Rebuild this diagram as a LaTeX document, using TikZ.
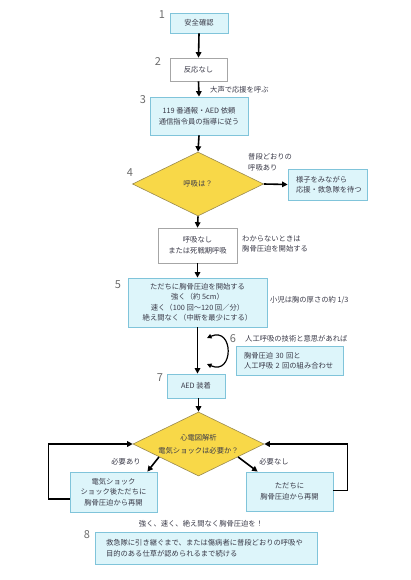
\documentclass[tikz,border=0pt]{standalone}
\usepackage{fontspec}
\newfontfamily\jp{Noto Sans CJK JP}
\usetikzlibrary{shapes.geometric,arrows.meta,calc}
\definecolor{boxfill}{HTML}{DDF5FA}
\definecolor{boxline}{HTML}{80C4DA}
\definecolor{dfill}{HTML}{F8D848}
\definecolor{dline}{HTML}{9A8A50}
\definecolor{txt}{HTML}{3A3A48}
\begin{document}
\begin{tikzpicture}[x=1pt,y=-1pt,
  every node/.style={font=\jp\fontsize{7.3}{10.5}\selectfont, text=txt, inner sep=0pt, align=center},
  cbox/.style={draw=boxline, fill=boxfill, line width=0.8pt},
  wbox/.style={draw=gray!70, fill=white, line width=0.6pt},
  dia/.style={diamond, aspect=2.05, draw=dline, fill=dfill, line width=0.6pt},
  num/.style={font=\jp\fontsize{11}{11}\selectfont, text=gray!85!black},
  note/.style={align=left, anchor=west},
  arr/.style={line width=1.6pt, -{Triangle[length=5.5pt,width=5.5pt]}},
  larr/.style={line width=1.2pt, {Triangle[length=4.5pt,width=4.5pt]}-{Triangle[length=4.5pt,width=4.5pt]}}]
\fill[white] (0,0) rectangle (410,580);
\useasboundingbox (0,0) rectangle (410,580);

% nodes
\node[cbox, minimum width=58, minimum height=20] (n1) at (199,23) {安全確認};
\node[wbox, minimum width=57, minimum height=23] (n2) at (198.5,69.5) {反応なし};
\node[cbox, minimum width=98, minimum height=38] (n3) at (199,116) {119 番通報・AED 依頼\\通信指令員の指導に従う};
\node[dia, minimum width=131, minimum height=64] (d4) at (198,184) {呼吸は？};
\node[cbox, minimum width=79, minimum height=31, text width=63, align=left, inner xsep=8] (n4r) at (327.5,184.5) {様子をみながら\\応援・救急隊を待つ};
\node[wbox, minimum width=79, minimum height=35] (n4b) at (197.5,245.5) {呼吸なし\\または死戦期呼吸};
\node[cbox, minimum width=139, minimum height=49] (n5) at (197.5,302.5) {ただちに胸骨圧迫を開始する\\強く（約 5cm）\\速く（100 回〜120 回／分）\\絶え間なく（中断を最少にする）};
\node[cbox, minimum width=107, minimum height=29, text width=91, align=left, inner xsep=8] (n6) at (289.5,360.5) {胸骨圧迫 30 回と\\人工呼吸 2 回の組み合わせ};
\node[cbox, minimum width=58, minimum height=24] (n7) at (196,386) {AED 装着};
\node[dia, minimum width=131, minimum height=64] (d7) at (198.5,444) {心電図解析\\[2pt]電気ショックは必要か？};
\node[cbox, minimum width=87, minimum height=40] (n8l) at (113.5,492) {電気ショック\\ショック後ただちに\\胸骨圧迫から再開};
\node[cbox, minimum width=87, minimum height=39] (n8r) at (289.5,491.5) {ただちに\\胸骨圧迫から再開};
\node (slogan) at (201,524) {強く、速く、絶え間なく胸骨圧迫を！};
\node[cbox, minimum height=32, text width=200, align=left, inner xsep=11] (n9) at (206,548) {救急隊に引き継ぐまで、または傷病者に普段どおりの呼吸や\\目的のある仕草が認められるまで続ける};

% numbers
\node[num] (k1) at (162,15) {1};
\node[num] (k2) at (158,62) {2};
\node[num] (k3) at (143,100) {3};
\node[num] (k4) at (130,173) {4};
\node[num] (k5) at (118,285) {5};
\node[num] (k6) at (233,339) {6};
\node[num] (k7) at (160,378) {7};
\node[num] (k8) at (87,535) {8};

% notes
\node[note] (t2) at (210,90) {大声で応援を呼ぶ};
\node[note] (t4) at (248,162) {普段どおりの\\呼吸あり};
\node[note] (t4b) at (242,244) {わからないときは\\胸骨圧迫を開始する};
\node[note] (t5) at (270,300) {小児は胸の厚さの約 1/3};
\node[note] (t6) at (245,339) {人工呼吸の技術と意思があれば};
\node (ty) at (126,462) {必要あり};
\node (tn) at (274,462) {必要なし};

% connectors
\draw[arr] (n1.south) -- (n2.north);
\draw[arr] (n2.south) -- (n3.north);
\draw[arr] (n3.south) -- (d4.north);
\draw[arr] (d4.east) -- (n4r.west);
\draw[arr] (d4.south) -- (n4b.north);
\draw[arr] (n4b.south) -- (n5.north);
\draw[arr] (n5.south) -- (n5.south |- n7.north);
\draw[arr] (d7.north |- n7.south) -- (d7.north);
\coordinate (la) at (207,338);
\coordinate (lb) at (207,364);
\draw[larr] (la) .. controls (234,326) and (234,376) .. (lb);
\draw[arr] ($(d7.west)!0.4!(d7.south)$) -- ($(n8l.north east)+(-10,0)$);
\draw[arr] ($(d7.east)!0.4!(d7.south)$) -- ($(n8r.north west)+(12,0)$);
\draw[arr] ($(n8l.west)+(0,7)$) -- ++(-21,0) |- (d7.west);
\draw[arr] ($(n8r.east)+(0,-1)$) -- ++(14,0) |- (d7.east);
\end{tikzpicture}
\end{document}
